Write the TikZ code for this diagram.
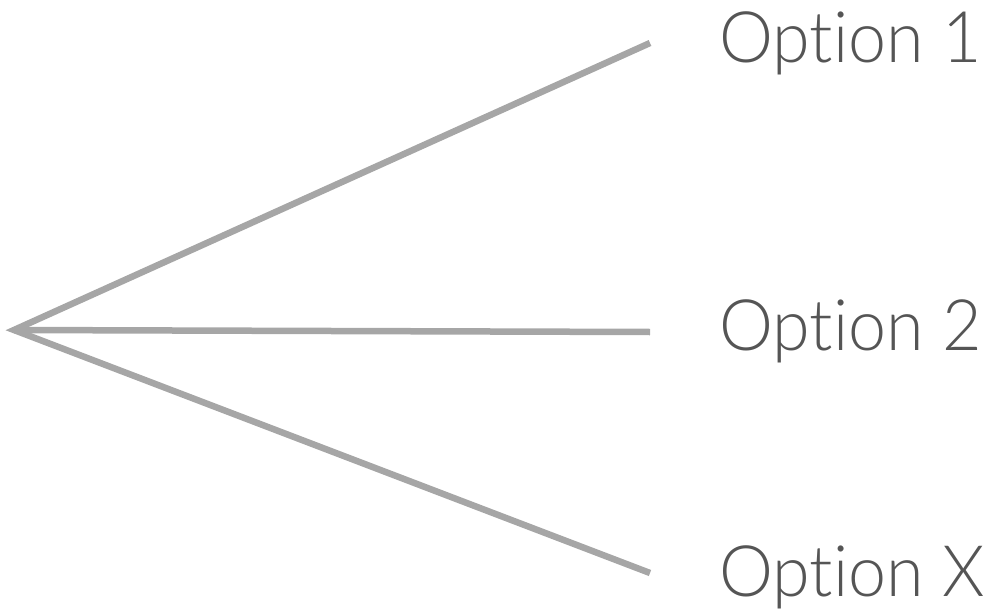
\documentclass[tikz,border=0pt]{standalone}
\usepackage{fontspec}
\newfontfamily\optfont[Ligatures=NoCommon]{Lato Light}
\definecolor{branchgray}{HTML}{A6A6A6}
\definecolor{labelgray}{HTML}{555555}
\tikzset{
  branch/.style={draw=branchgray, line width=6.5pt, line cap=butt},
  optlabel/.style={anchor=base west, inner sep=0pt, text=labelgray,
    font=\optfont\fontsize{71}{71}\selectfont}
}
\begin{document}
\begin{tikzpicture}[x=1pt, y=-1pt]
  \useasboundingbox (0,0) rectangle (1006,615);
  % branching point and branch ends
  \coordinate (root) at (14,330);
  \coordinate (e1) at (650,43);
  \coordinate (e2) at (650,332);
  \coordinate (e3) at (650,573);
  \draw[branch] (e1) -- (root) -- (e3);
  \draw[branch] (root) -- (e2);
  % option labels
  \node[optlabel, xscale=0.96] (o1) at (719,63) {Option 1};
  \node[optlabel, xscale=0.96] (o2) at (719,350) {Option 2};
  \node[optlabel, xscale=0.96] (o3) at (719,596) {Option X};
\end{tikzpicture}
\end{document}
